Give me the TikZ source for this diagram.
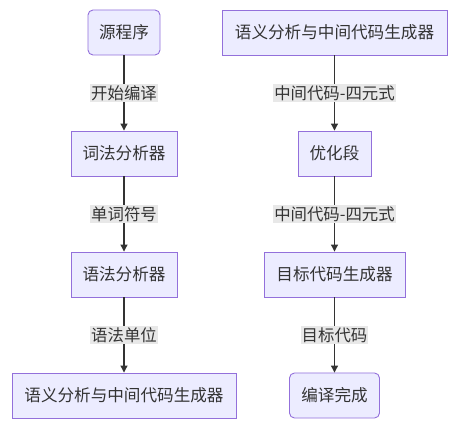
\documentclass[tikz,border=0pt]{standalone}
\usepackage{fontspec}
\setmainfont{Noto Sans CJK SC}
\usetikzlibrary{arrows.meta}
\definecolor{nodefill}{HTML}{ECECFF}
\definecolor{nodedraw}{HTML}{9370DB}
\definecolor{txt}{HTML}{333333}
\definecolor{lblbg}{HTML}{E8E8E8}
\begin{document}
\begin{tikzpicture}[x=1pt,y=-1pt,
  box/.style={draw=nodedraw,fill=nodefill,line width=0.9pt,text=txt,minimum height=45pt,inner sep=0pt,font=\fontsize{16.6}{19}\selectfont},
  rbox/.style={box,rounded corners=5pt},
  lbl/.style={fill=lblbg,text=txt,inner xsep=1pt,inner ysep=1pt,font=\fontsize{16.4}{19}\selectfont},
  arr/.style={draw=txt,line width=1.1pt,-{Triangle[length=7pt,width=7pt]}}]
\useasboundingbox (0,0) rectangle (450,438);
\fill[white] (0,0) rectangle (450,438);
% left column
\node[rbox,minimum width=72pt] (src) at (124,32.5) {源程序};
\node[box,minimum width=106pt] (lex) at (124,153.5) {词法分析器};
\node[box,minimum width=106pt] (syn) at (124,274.5) {语法分析器};
\node[box,minimum width=224pt] (sem1) at (124,395.5) {语义分析与中间代码生成器};
% right column
\node[box,minimum width=225pt] (sem2) at (334.5,32.5) {语义分析与中间代码生成器};
\node[box,minimum width=73pt] (opt) at (334.5,153.5) {优化段};
\node[box,minimum width=141pt] (gen) at (334.5,274.5) {目标代码生成器};
\node[rbox,minimum width=90pt] (done) at (334.5,395.5) {编译完成};
% edges
\draw[arr] (src) -- node[lbl] (l1) {开始编译} (lex);
\draw[arr] (lex) -- node[lbl] (l2) {单词符号} (syn);
\draw[arr] (syn) -- node[lbl] (l3) {语法单位} (sem1);
\draw[arr] (sem2) -- node[lbl] (l4) {中间代码-四元式} (opt);
\draw[arr] (opt) -- node[lbl] (l5) {中间代码-四元式} (gen);
\draw[arr] (gen) -- node[lbl] (l6) {目标代码} (done);
\end{tikzpicture}
\end{document}
